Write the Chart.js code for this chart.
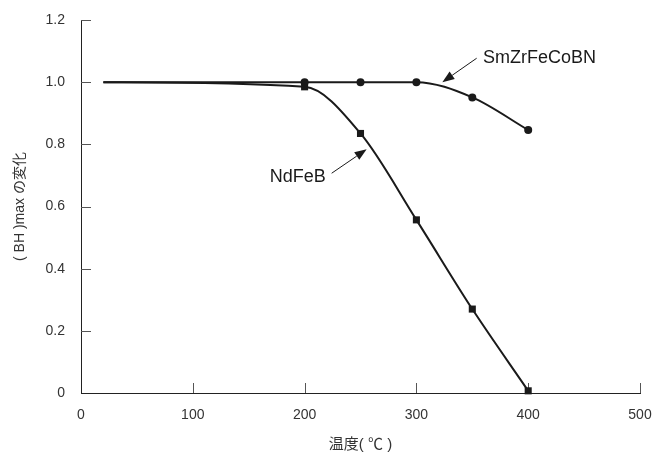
<!DOCTYPE html>
<html>
<head>
<meta charset="utf-8">
<script src="https://cdn.jsdelivr.net/npm/chart.js@4.4.1/dist/chart.umd.min.js"></script>
<style>
  html, body { margin: 0; padding: 0; background: #fff; }
  #wrap { width: 665px; height: 455px; }
</style>
</head>
<body>
<div id="wrap"><canvas id="chart"></canvas></div>
<script>
const temps = [20, 200, 250, 300, 350, 400];
const smzr = [1.0, 1.0, 1.0, 1.0, 0.951, 0.846];
const ndfeb = [1.0, 0.985, 0.835, 0.557, 0.27, 0.007];
const xTicks = [0, 100, 200, 300, 400, 500];
const yTicks = [0, 0.2, 0.4, 0.6, 0.8, 1.0, 1.2];

// callout labels, in data units
const callouts = [
  { text: 'SmZrFeCoBN', at: [359.6, 1.078], align: 'left', from: [353.9, 1.077], to: [323.2, 1.0] },
  { text: 'NdFeB', at: [219, 0.695], align: 'right', from: [224.2, 0.707], to: [255.5, 0.784] }
];

const FONT = '"Liberation Sans", Arial, "Noto Sans CJK JP", sans-serif';
const INK = '#1a1a1a';

const tickMarks = {
  id: 'tickMarks',
  beforeDatasetsDraw(chart) {
    const { ctx, scales: { x, y }, chartArea: a } = chart;
    ctx.save();
    ctx.strokeStyle = '#555';
    ctx.lineWidth = 1;
    ctx.beginPath();
    xTicks.slice(1).forEach(v => {
      const px = Math.round(x.getPixelForValue(v)) + 0.5;
      ctx.moveTo(px, a.bottom);
      ctx.lineTo(px, a.bottom - 10);
    });
    yTicks.slice(1).forEach(v => {
      const py = Math.round(y.getPixelForValue(v)) + 0.5;
      ctx.moveTo(a.left, py);
      ctx.lineTo(a.left + 10, py);
    });
    ctx.stroke();
    ctx.restore();
  }
};

const calloutPlugin = {
  id: 'callouts',
  afterDatasetsDraw(chart) {
    const { ctx, scales: { x, y } } = chart;
    ctx.save();
    callouts.forEach(c => {
      ctx.font = '18px ' + FONT;
      ctx.fillStyle = INK;
      ctx.textAlign = c.align;
      ctx.textBaseline = 'middle';
      ctx.fillText(c.text, x.getPixelForValue(c.at[0]), y.getPixelForValue(c.at[1]));

      const x1 = x.getPixelForValue(c.from[0]), y1 = y.getPixelForValue(c.from[1]);
      const x2 = x.getPixelForValue(c.to[0]), y2 = y.getPixelForValue(c.to[1]);
      const ang = Math.atan2(y2 - y1, x2 - x1);
      const len = 12, half = 4.5;
      const bx = x2 - len * Math.cos(ang), by = y2 - len * Math.sin(ang);
      ctx.strokeStyle = INK;
      ctx.lineWidth = 1;
      ctx.beginPath();
      ctx.moveTo(x1, y1);
      ctx.lineTo(bx, by);
      ctx.stroke();
      ctx.beginPath();
      ctx.moveTo(x2, y2);
      ctx.lineTo(bx + half * Math.sin(ang), by - half * Math.cos(ang));
      ctx.lineTo(bx - half * Math.sin(ang), by + half * Math.cos(ang));
      ctx.closePath();
      ctx.fill();
    });
    ctx.restore();
  }
};

const tickFont = { family: FONT, size: 14 };

new Chart(document.getElementById('chart'), {
  type: 'line',
  data: {
    datasets: [{
      label: 'SmZrFeCoBN',
      data: temps.map((t, i) => ({ x: t, y: smzr[i] })),
      borderColor: INK,
      borderWidth: 2,
      pointStyle: 'circle',
      pointRadius: [0, 4, 4, 4, 4, 4],
      pointBackgroundColor: INK,
      pointBorderWidth: 0,
      cubicInterpolationMode: 'monotone',
      clip: false
    }, {
      label: 'NdFeB',
      data: temps.map((t, i) => ({ x: t, y: ndfeb[i] })),
      borderColor: INK,
      borderWidth: 2,
      pointStyle: 'rect',
      pointRadius: [0, 5, 5, 5, 5, 5],
      pointBackgroundColor: INK,
      pointBorderWidth: 0,
      cubicInterpolationMode: 'monotone',
      clip: false
    }]
  },
  options: {
    responsive: true,
    maintainAspectRatio: false,
    animation: false,
    layout: { padding: { left: 0, right: 25, top: 20, bottom: 0 } },
    plugins: { legend: { display: false }, tooltip: { enabled: false } },
    scales: {
      x: {
        type: 'linear',
        min: 0,
        max: 500,
        afterFit(s) { s.height = 62; s.paddingLeft = 0; s.paddingRight = 0; s.paddingTop = 0; s.paddingBottom = 0; },
        afterBuildTicks(s) { s.ticks = xTicks.map(v => ({ value: v })); },
        grid: { display: false, drawTicks: false },
        border: { color: '#222', width: 1 },
        ticks: { padding: 14, font: tickFont, color: '#333' },
        title: {
          display: true, text: '温度( ℃ )', color: '#333',
          font: { family: FONT, size: 15 }, padding: { top: 0, bottom: 1 }
        }
      },
      y: {
        type: 'linear',
        min: 0,
        max: 1.2,
        afterFit(s) { s.width = 81; s.paddingLeft = 0; s.paddingRight = 0; s.paddingTop = 0; s.paddingBottom = 0; },
        afterBuildTicks(s) { s.ticks = yTicks.map(v => ({ value: v })); },
        grid: { display: false, drawTicks: false },
        border: { color: '#222', width: 1 },
        ticks: {
          padding: 16, font: tickFont, color: '#333',
          callback: v => v === 0 ? '0' : v.toFixed(1)
        },
        title: {
          display: true, text: '( BH )max の変化', color: '#333',
          font: { family: FONT, size: 14 }, padding: { top: 12, bottom: 0 }
        }
      }
    }
  },
  plugins: [tickMarks, calloutPlugin]
});
</script>
</body>
</html>
